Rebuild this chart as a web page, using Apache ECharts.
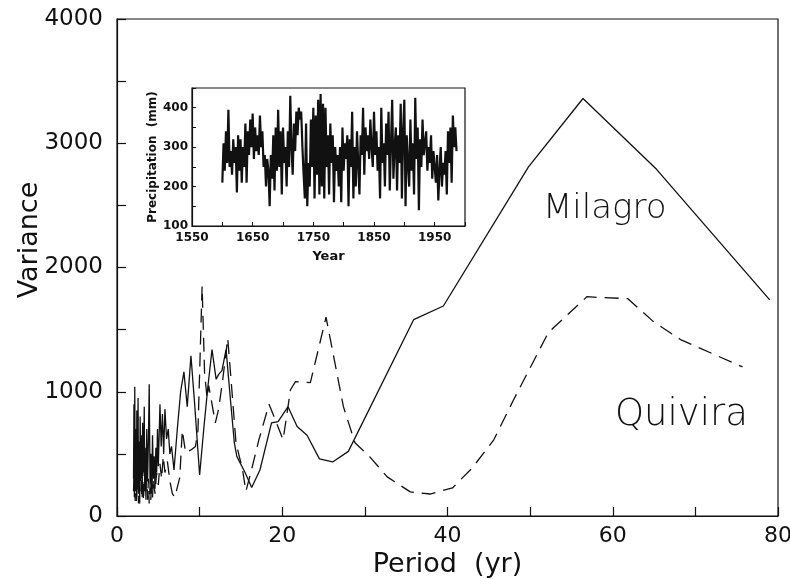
<!DOCTYPE html>
<html>
<head>
<meta charset="utf-8">
<script src="https://cdn.jsdelivr.net/npm/echarts@6/dist/echarts.min.js"></script>
<style>
  html, body { margin: 0; padding: 0; background: #fff; }
  #chart { width: 790px; height: 579px; }
</style>
</head>
<body>
<div id="chart"></div>
<script>
// Variance spectra of two precipitation reconstructions, with the annual
// Milagro precipitation record shown in the inset.

// Milagro spectrum (solid line)
const milagroPeriod = [2.0,2.05,2.1,2.15,2.2,2.3,2.35,2.4,2.5,2.55,2.6,2.7,2.75,2.8,2.9,3.0,3.05,3.1,3.2,3.3,3.35,3.4,3.5,3.6,3.7,3.8,3.9,4.0,4.1,4.2,4.3,4.4,4.5,4.6,4.7,4.8,4.9,5.0,5.2,5.35,5.5,5.65,5.8,6.0,6.2,6.4,6.6,6.9,7.3,7.7,8.1,8.5,8.95,9.4,10.0,10.5,11.0,11.5,12.0,12.3,12.7,13.2,13.7,14.2,14.5,15.5,16.3,17.3,18.7,19.5,20.7,21.8,23.0,24.5,26.1,28.0,35.9,39.5,49.8,56.4,65.3,79.0];
const milagroVariance = [300,900,150,1040,200,700,120,850,250,950,180,600,100,800,300,650,150,750,350,880,200,550,130,700,280,600,1060,250,500,180,650,300,480,220,550,350,700,400,900,560,820,500,860,620,700,500,560,370,700,1000,1160,880,1290,900,330,700,1040,1340,1100,1140,1170,1340,960,590,480,350,230,370,750,760,880,720,650,460,435,520,1580,1690,2810,3360,2790,1740];

// Quivira spectrum (dashed line)
const quiviraPeriod = [2.0,2.1,2.2,2.3,2.4,2.5,2.6,2.7,2.8,2.9,3.0,3.1,3.2,3.3,3.4,3.5,3.6,3.7,3.8,3.9,4.0,4.1,4.2,4.3,4.4,4.6,4.8,5.0,5.2,5.4,5.6,5.8,6.1,6.4,6.7,7.0,7.6,7.9,8.3,8.9,9.5,9.8,10.3,10.6,10.9,11.1,11.9,12.3,12.8,13.4,13.8,14.4,15.2,15.6,16.2,17.2,18.4,19.0,20.1,21.0,21.6,23.4,25.3,27.4,28.8,30.6,32.7,35.5,37.9,40.6,43.0,45.6,48.0,52.2,56.9,58.5,61.8,65.0,68.2,75.7];
const quiviraVariance = [200,450,120,380,150,500,100,350,200,550,150,400,120,300,450,200,380,130,300,100,250,130,400,150,300,180,350,250,420,300,480,350,440,280,180,150,310,690,510,530,560,690,1850,1150,950,1050,750,860,1100,1430,1100,590,370,200,350,620,900,800,613,1016,1081,1073,1600,880,590,476,315,194,177,226,387,613,935,1476,1766,1758,1750,1560,1420,1200];

// Annual precipitation (mm), one value every second year from 1600
const precipStartYear = 1600;
const precipStep = 2;
const precipitation = [
  210,310,240,340,260, 395,250,290,230,320, 260,300,185,330,240, 320,210,300,250,360,
  210,340,280,370,300, 385,270,350,290,330, 280,380,300,340,250, 280,200,270,240,150,
  280,220,330,190,350, 240,395,250,340,180, 350,260,300,200,340, 250,430,300,230,360,
  290,390,330,400,370, 390,300,230,170,360, 150,260,200,370,250, 400,170,380,230,420,
  180,435,200,410,170, 400,250,330,180,360, 260,330,160,300,240, 280,200,300,160,350,
  240,310,270,330,150, 320,250,390,170,300, 200,340,260,180,330, 280,400,230,350,290,
  330,270,370,300,250, 390,280,340,240,300, 170,400,260,310,200, 360,280,390,190,310,
  420,220,300,350,190, 330,260,410,170,340, 420,150,330,260,200, 370,240,310,180,425,
  270,350,140,320,250, 370,280,310,340,240, 300,260,330,220,290, 250,210,280,165,240,
  300,200,260,230,290, 180,340,260,350,210, 380,300,350,290
];

// Text drawn beside the curves and on the left
const seriesNames = ['Milagro', 'Quivira'];
const varianceTitle = 'Variance';

const zip = (xs, ys) => xs.map((x, i) => [x, ys[i]]);
const precipData = precipitation.map((v, i) => [precipStartYear + i * precipStep, v]);

const ink = '#111';
const mainFont = 'DejaVu Sans';

const chart = echarts.init(document.getElementById('chart'), null, { renderer: 'canvas' });

chart.setOption({
  backgroundColor: '#fff',
  animation: false,
  grid: [
    { left: 117, right: 12, top: 19, bottom: 63, outerBoundsMode: 'none', containLabel: false,
      show: true, borderColor: ink, borderWidth: 1.2, backgroundColor: 'transparent' },
    { left: 192, top: 88, width: 273, height: 138, outerBoundsMode: 'none', containLabel: false,
      show: true, borderColor: ink, borderWidth: 1.2, backgroundColor: '#fff' }
  ],
  xAxis: [
    {
      gridIndex: 0, type: 'value', min: 0, max: 80, interval: 20,
      name: 'Period  (yr)', nameLocation: 'middle', nameGap: 25,
      nameTextStyle: { fontFamily: mainFont, fontSize: 27, color: ink },
      axisLine: { show: true, lineStyle: { color: ink, width: 1.2 } },
      axisTick: { show: true, inside: true, length: 9, lineStyle: { color: ink, width: 1.2 } },
      minorTick: { show: true, splitNumber: 2, length: 9, lineStyle: { color: ink, width: 1.2 } },
      axisLabel: { fontFamily: mainFont, fontSize: 22, color: ink, margin: 9, formatter: v => String(v) },
      splitLine: { show: false }
    },
    {
      gridIndex: 1, type: 'value', min: 1550, max: 2000, interval: 50,
      name: 'Year', nameLocation: 'middle', nameGap: 24,
      nameTextStyle: { fontFamily: mainFont, fontSize: 13, fontWeight: 'bold', color: ink },
      axisLine: { show: true, lineStyle: { color: ink, width: 1.2 } },
      axisTick: { show: true, inside: true, length: 4, lineStyle: { color: ink } },
      axisLabel: {
        fontFamily: mainFont, fontSize: 12, fontWeight: 'bold', color: ink, margin: 6,
        formatter: v => ((v - 1550) % 100 === 0 && v < 2000) ? String(v) : ''
      },
      splitLine: { show: false }
    }
  ],
  yAxis: [
    {
      gridIndex: 0, type: 'value', min: 0, max: 4000, interval: 1000,
      axisLine: { show: true, lineStyle: { color: ink, width: 1.2 } },
      axisTick: { show: true, inside: true, length: 9, lineStyle: { color: ink, width: 1.2 } },
      minorTick: { show: true, splitNumber: 2, length: 9, lineStyle: { color: ink, width: 1.2 } },
      axisLabel: { fontFamily: mainFont, fontSize: 23, color: ink, margin: 14, formatter: v => String(v) },
      splitLine: { show: false }
    },
    {
      gridIndex: 1, type: 'value', min: 100, max: 450, interval: 50,
      name: 'Precipitation  (mm)', nameLocation: 'middle', nameGap: 28,
      nameTextStyle: { fontFamily: mainFont, fontSize: 12, fontWeight: 'bold', color: ink },
      axisLine: { show: true, lineStyle: { color: ink, width: 1.2 } },
      axisTick: { show: true, inside: true, length: 4, lineStyle: { color: ink } },
      axisLabel: {
        fontFamily: mainFont, fontSize: 12, fontWeight: 'bold', color: ink, margin: 4,
        formatter: v => (v % 100 === 0) ? String(v) : ''
      },
      splitLine: { show: false }
    }
  ],
  series: [
    {
      name: seriesNames[0], type: 'line', xAxisIndex: 0, yAxisIndex: 0,
      data: zip(milagroPeriod, milagroVariance),
      showSymbol: false, symbol: 'none',
      lineStyle: { color: ink, width: 1.3 }
    },
    {
      name: seriesNames[1], type: 'line', xAxisIndex: 0, yAxisIndex: 0,
      data: zip(quiviraPeriod, quiviraVariance),
      showSymbol: false, symbol: 'none',
      lineStyle: { color: ink, width: 1.3, type: [14, 8] }
    },
    {
      name: 'Precipitation', type: 'line', xAxisIndex: 1, yAxisIndex: 1,
      data: precipData,
      showSymbol: false, symbol: 'none',
      lineStyle: { color: ink, width: 2.2 }
    }
  ],
  graphic: [
    {
      type: 'text', x: 30, y: 240, rotation: Math.PI / 2,
      style: { text: varianceTitle, fontFamily: mainFont, fontSize: 27, fill: ink, align: 'center', verticalAlign: 'middle' }
    },
    {
      type: 'text', left: 543, top: 192,
      style: { text: seriesNames[0], fontFamily: mainFont, fontSize: 34, fontWeight: 300, fill: ink }
    },
    {
      type: 'text', left: 615, top: 397,
      style: { text: seriesNames[1], fontFamily: mainFont, fontSize: 37, fontWeight: 300, fill: ink }
    }
  ]
});
</script>
</body>
</html>
